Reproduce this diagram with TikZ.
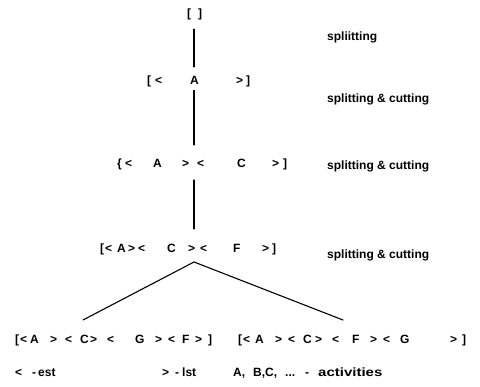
\documentclass[tikz,border=0pt]{standalone}
\usepackage{fontspec}
\usepackage{graphicx}
\setmainfont{Liberation Sans}
\usetikzlibrary{calc}
% place one glyph group at a horizontal offset (pt) from the row start
\newcommand\gl[2]{\rlap{\hspace*{#1pt}#2}}
\begin{document}
\begin{tikzpicture}[x=1pt,y=-1pt,
  txt/.style={font=\fontsize{12}{14}\selectfont\bfseries, inner sep=0pt, anchor=base west},
  link/.style={line width=1.1pt, line cap=round}]
\useasboundingbox (0,0) rectangle (480,387);
\fill[white] (0,0) rectangle (480,387);
\coordinate (ax) at (194,0);

% sequence rows
\node[txt] (r1) at (187,18) {\gl{0}{[}\gl{11}{]}\hspace*{15pt}};
\node[txt] (r2) at (147,84.3) {\gl{0}{[}\gl{8}{<}\gl{43}{A}\gl{89}{>}\gl{99}{]}\hspace*{103pt}};
\node[txt] (r3) at (117,167.3) {\gl{0}{\{}\gl{8}{<}\gl{36}{A}\gl{65}{>}\gl{80}{<}\gl{120}{C}\gl{155}{>}\gl{166}{]}\hspace*{170pt}};
\node[txt] (r4) at (100,252.3) {\gl{0}{[}\gl{5}{<}\gl{17}{A}\gl{28}{>}\gl{38}{<}\gl{67}{C}\gl{88}{>}\gl{100}{<}\gl{133}{F}\gl{162}{>}\gl{172}{]}\hspace*{176pt}};
\node[txt] (r5l) at (15,343.3) {\gl{0}{[}\gl{5}{<}\gl{15}{A}\gl{35}{>}\gl{50}{<}\gl{65}{C}\gl{75}{>}\gl{92}{<}\gl{120}{G}\gl{140}{>}\gl{153}{<}\gl{167}{F}\gl{180}{>}\gl{193}{]}\hspace*{198pt}};
\node[txt] (r5r) at (238,343.3) {\gl{0}{[}\gl{5}{<}\gl{17}{A}\gl{37}{>}\gl{50}{<}\gl{65}{C}\gl{77}{>}\gl{94}{<}\gl{114}{F}\gl{132}{>}\gl{145}{<}\gl{162}{G}\gl{212}{>}\gl{224}{]}\hspace*{227pt}};

% step labels
\node[txt] (lb1) at (327,41) {spliitting};
\node[txt] (lb2) at (327,103) {splitting \& cutting};
\node[txt] (lb3) at (327,170) {splitting \& cutting};
\node[txt] (lb4) at (327,259) {splitting \& cutting};

% legend
\node[txt] (lg1) at (15,377) {\gl{0}{<}\gl{17}{-}\gl{23}{est}\hspace*{43pt}};
\node[txt] (lg2) at (162,377) {\gl{0}{>}\gl{13}{-}\gl{20}{lst}\hspace*{35pt}};
\node[txt] (lg3) at (233,377) {\gl{0}{A,}\gl{20}{B,C,}\gl{52}{...}\gl{72}{-}\gl{85}{\scalebox{1.25}[1]{activities}}\hspace*{155pt}};

% connectors
\draw[link] ($(r1.south -| ax)+(0,8.5)$) -- ($(r2.north -| ax)+(0,-8.5)$);
\draw[link] ($(r2.south -| ax)+(0,3.5)$) -- ($(r3.north -| ax)+(0,-13.5)$);
\draw[link] ($(r3.south -| ax)+(0,10)$) -- ($(r4.north -| ax)+(0,-14.5)$);
\coordinate (apex) at ($(r4.south -| ax)+(0,7)$);
\coordinate (endL) at (83,320);
\coordinate (endR) at (343,320);
\draw[link] (endL) -- (apex) -- (endR);
\end{tikzpicture}
\end{document}
